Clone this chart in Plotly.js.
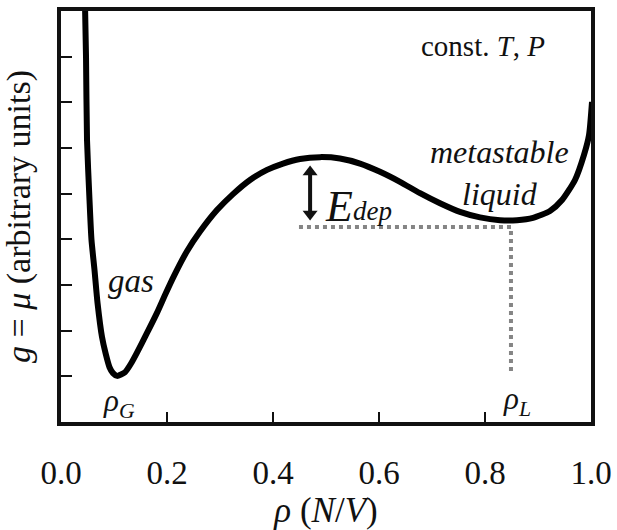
<!DOCTYPE html>
<html>
<head>
<meta charset="utf-8">
<script src="https://cdn.plot.ly/plotly-3.0.1.min.js"></script>
<style>html,body{margin:0;padding:0;background:#fff;}#chart{width:617px;height:530px;}</style>
</head>
<body>
<div id="chart"></div>
<script>
// Free-energy curve g(rho)
const rho = [0.0453, 0.0472, 0.0491, 0.0538, 0.0575, 0.0632, 0.0689, 0.0774, 0.0840, 0.0915, 0.0981, 0.1057,
             0.1208, 0.1321, 0.1434, 0.1623, 0.1811, 0.1962, 0.2132, 0.2377, 0.2623, 0.2943, 0.3245, 0.3566,
             0.3887, 0.4189, 0.4509, 0.4887, 0.5264, 0.5642, 0.6019, 0.6396, 0.6774, 0.7151, 0.7528, 0.7906,
             0.8283, 0.8604, 0.8906, 0.9226, 0.9453, 0.9698, 0.9868, 0.9962, 1.0019];
const g   = [9.13, 7.99, 6.17, 4.86, 3.99, 3.33, 2.61, 1.86, 1.51, 1.20, 1.07, 1.01,
             1.09, 1.28, 1.52, 1.95, 2.39, 2.78, 3.20, 3.74, 4.17, 4.64, 4.99, 5.30,
             5.52, 5.66, 5.76, 5.80, 5.77, 5.66, 5.48, 5.26, 5.01, 4.79, 4.60, 4.48,
             4.42, 4.42, 4.47, 4.62, 4.86, 5.30, 5.85, 6.28, 7.01];
// Dotted guide (depth level and rho_L)
const guideX = [0.449, 0.849, 0.849];
const guideY = [4.27, 4.27, 1.07];
// Double arrow for E_dep (arrowhead centres)
const arrowX = [0.470, 0.470];
const arrowY = [4.555, 5.475];
// Axis ticks
const xTicks = [0.0, 0.2, 0.4, 0.6, 0.8, 1.0];
const xTickLabels = ["0.0", "0.2", "0.4", "0.6", "0.8", "1.0"];
const yTicks = [1, 2, 3, 4, 5, 6, 7, 8];

const FONT = "Liberation Serif";
const INK = "#111";

const traces = [
  {x: guideX, y: guideY, mode: "lines", line: {color: "#858585", width: 4, dash: "dot"}, hoverinfo: "skip"},
  {x: rho, y: g, mode: "lines", line: {color: "#000", width: 6, shape: "spline", smoothing: 0.6}, hoverinfo: "skip"},
  {x: arrowX, y: arrowY, mode: "lines+markers", line: {color: INK, width: 4},
   marker: {symbol: ["triangle-down", "triangle-up"], size: 13, color: INK, line: {width: 0}}, hoverinfo: "skip"}
];

const ann = (x, y, text, size) => ({x, y, xref: "x", yref: "y", text, showarrow: false,
  font: {family: FONT, size, color: INK}});

const layout = {
  width: 617, height: 530,
  margin: {l: 61, r: 26, t: 11, b: 108},
  paper_bgcolor: "#fff", plot_bgcolor: "#fff",
  showlegend: false,
  font: {family: FONT, color: INK},
  xaxis: {
    range: [0, 1], tickvals: xTicks, ticktext: xTickLabels,
    ticks: "inside", ticklen: 10, tickwidth: 2, tickcolor: INK,
    showline: true, linewidth: 4, linecolor: INK, mirror: true,
    showgrid: false, zeroline: false,
    tickfont: {family: FONT, size: 33, color: INK}, ticklabelstandoff: 18,
    title: {text: "<i>ρ</i> (<i>N</i>/<i>V</i>)", font: {family: FONT, size: 35, color: INK}, standoff: 8}
  },
  yaxis: {
    range: [0, 9], tickvals: yTicks, showticklabels: false,
    ticks: "inside", ticklen: 11, tickwidth: 2, tickcolor: INK,
    showline: true, linewidth: 4, linecolor: INK, mirror: true,
    showgrid: false, zeroline: false,
    title: {text: "<i>g</i> = <i>μ</i> (arbitrary units)", font: {family: FONT, size: 34, color: INK}, standoff: 17}
  },
  annotations: [
    ann(0.797, 8.23, "const. <i>T</i>, <i>P</i>", 29),
    ann(0.828, 5.45, "<i>metastable</i><br><i>liquid</i>", 32),
    ann(0.132, 3.09, "<i>gas</i>", 33),
    ann(0.109, 0.42, "<i>ρ<sub>G</sub></i>", 31),
    ann(0.860, 0.46, "<i>ρ<sub>L</sub></i>", 31),
    ann(0.525, 4.72, "<i>E</i>", 44),
    ann(0.587, 4.62, "<i>dep</i>", 27)
  ]
};

Plotly.newPlot("chart", traces, layout, {staticPlot: true, displayModeBar: false});
</script>
</body>
</html>
